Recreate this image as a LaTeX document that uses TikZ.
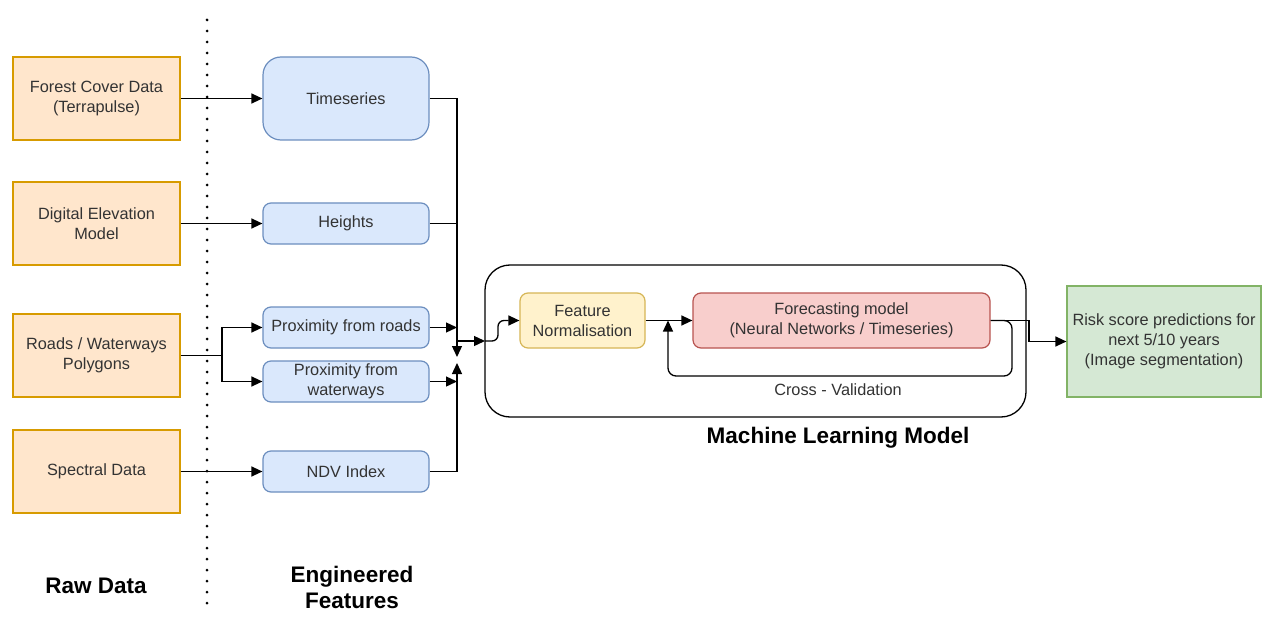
\documentclass[tikz,border=0pt]{standalone}
\usepackage{fontspec}
\setmainfont{Liberation Sans}
\usetikzlibrary{arrows.meta}
\definecolor{orfill}{HTML}{FFE6CC}\definecolor{orline}{HTML}{D79B00}
\definecolor{blfill}{HTML}{DAE8FC}\definecolor{blline}{HTML}{6C8EBF}
\definecolor{yefill}{HTML}{FFF2CC}\definecolor{yeline}{HTML}{D6B656}
\definecolor{refill}{HTML}{F8CECC}\definecolor{reline}{HTML}{B85450}
\definecolor{grfill}{HTML}{D5E8D4}\definecolor{grline}{HTML}{82B366}
\definecolor{txt}{HTML}{333333}
\tikzset{
  base/.style={draw, line width=1.2pt, inner sep=0pt, align=center, text=txt,
    font=\fontsize{16.3}{20}\selectfont},
  rawbox/.style={base, fill=orfill, draw=orline, minimum width=167pt, minimum height=83pt},
  featbox/.style={base, fill=blfill, draw=blline, rounded corners=8pt, minimum width=166pt, minimum height=41pt},
  arr/.style={line width=1.3pt, -{Triangle[length=11pt,width=10pt]}},
  ln/.style={line width=1.3pt},
  title/.style={font=\fontsize{22.5}{26}\selectfont\bfseries, align=center, text=black}
}
\begin{document}
\begin{tikzpicture}[x=1pt,y=-1pt]
\useasboundingbox (0,0) rectangle (1274,639);
\fill[white] (0,0) rectangle (1274,639);
% dotted separator
\draw[line width=3pt, line cap=round, dash pattern=on 0pt off 11pt] (207,20) -- (207,612);
% ML container
\node[draw, line width=1.3pt, rounded corners=25pt, minimum width=541pt, minimum height=152pt] (ml) at (755.5,341) {};
% raw data
\node[rawbox] (forest) at (96.5,98.5) {Forest Cover Data\\(Terrapulse)};
\node[rawbox] (dem) at (96.5,223.5) {Digital Elevation\\Model};
\node[rawbox] (roads) at (96.5,355.5) {Roads / Waterways\\Polygons};
\node[rawbox] (spec) at (96.5,471.5) {Spectral Data};
% features
\node[featbox, rounded corners=18pt, minimum height=83pt] (ts) at (346,98.5) {Timeseries};
\node[featbox] (hgt) at (346,223.5) {Heights};
\node[featbox] (prr) at (346,327.5) {Proximity from roads};
\node[featbox] (prw) at (346,381.5) {Proximity from\\waterways};
\node[featbox] (ndv) at (346,471.5) {NDV Index};
% model nodes
\node[base, fill=yefill, draw=yeline, rounded corners=8pt, minimum width=125pt, minimum height=55pt] (fn) at (582.5,320.5) {Feature\\Normalisation};
\node[base, fill=refill, draw=reline, rounded corners=8pt, minimum width=297pt, minimum height=55pt] (fc) at (841.5,320.5) {Forecasting model\\(Neural Networks / Timeseries)};
\node[base, fill=grfill, draw=grline, minimum width=194pt, minimum height=111pt] (out) at (1164,341.5) {Risk score predictions for\\next 5/10 years\\(Image segmentation)};
% labels
\node[title] (lraw) at (96,586) {Raw Data};
\node[title] (lfeat) at (352,587) {Engineered\\Features};
\node[title] (lml) at (838,438) {Machine Learning Model};
\node[text=txt, font=\fontsize{16.3}{20}\selectfont] (lcv) at (838,390) {Cross - Validation};
% coordinates
\coordinate (rsplit) at (222,355.5);
\coordinate (busT) at (457,357);
\coordinate (busB) at (457,363);
\coordinate (busM) at (457,341);
\coordinate (mlin) at (485,341);
\coordinate (cvA) at (1012,320.5);
\coordinate (cvB) at (1012,376);
\coordinate (cvC) at (668,376);
\coordinate (cvD) at (668,320.5);
\coordinate (oA) at (1029,320.5);
\coordinate (oB) at (1029,341.5);
% raw -> features
\draw[arr] (forest.east) -- (ts.west);
\draw[arr] (dem.east) -- (hgt.west);
\draw[arr] (spec.east) -- (ndv.west);
\draw[ln] (roads.east) -- (rsplit);
\draw[arr] (rsplit) |- (prr.west);
\draw[arr] (rsplit) |- (prw.west);
% features -> bus
\draw[ln] (ts.east) -| (457,120);
\draw[arr] (457,100) -- (busT);
\draw[ln] (hgt.east) -- (457,223.5);
\draw[arr] (prr.east) -- (457,327.5);
\draw[arr] (prw.east) -- (457,381.5);
\draw[arr] (ndv.east) -| (busB);
% bus -> model
\draw[arr] (busM) -- (mlin);
\draw[arr, rounded corners=6pt] (mlin) -- (498,341) -- (498,320.5) -- (fn.west);
\draw[arr] (fn.east) -- (fc.west);
% cross validation loop
\draw[arr, rounded corners=8pt] (fc.east) -- (cvA) -- (cvB) -- (cvC) -- (cvD);
% output
\draw[arr] (fc.east) -- (oA) -- (oB) -- (out.west);
\end{tikzpicture}
\end{document}
